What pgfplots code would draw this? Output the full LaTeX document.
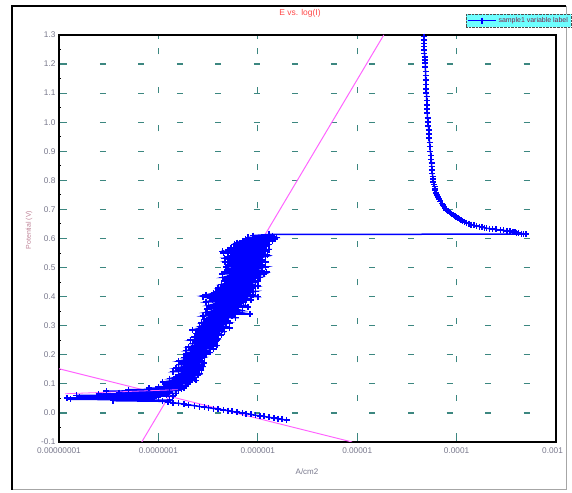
\documentclass[border=0pt]{standalone}
\usepackage{fontspec}
\setmainfont{Liberation Sans}
\usepackage{pgfplots}
\pgfplotsset{compat=1.18}
\definecolor{gridteal}{RGB}{60,135,128}
\definecolor{tafel}{RGB}{255,100,255}
\definecolor{legcyan}{RGB}{110,255,255}
\definecolor{titlered}{RGB}{255,70,70}
\definecolor{ticklab}{RGB}{120,120,140}
\definecolor{ylab}{RGB}{190,130,150}
\definecolor{legtext}{RGB}{130,30,70}
\begin{document}
\begin{tikzpicture}[x=1bp,y=1bp]
\path[use as bounding box] (-59,-51) rectangle (513,442);
\draw[gray!70, line width=1bp] (-47,-48) -- (507,-48) -- (507,436);
\draw[black, line width=1.5bp] (-47,-48) -- (-47,436) -- (507,436);
\begin{axis}[at={(0,0)}, anchor=south west, scale only axis,
  width=497bp, height=407bp,
  xmode=log, xmin=1e-8, xmax=1e-3, ymin=-0.1, ymax=1.3,
  xtick={1e-8,1e-7,1e-6,1e-5,1e-4,1e-3},
  xticklabels={0.00000001,0.0000001,0.000001,0.00001,0.0001,\hspace*{-7bp}0.001},
  ytick={-0.1,0,0.1,0.2,0.3,0.4,0.5,0.6,0.7,0.8,0.9,1.0,1.1,1.2,1.3},
  yticklabel style={/pgf/number format/.cd, fixed, fixed zerofill, precision=1},
  xticklabel style={yshift=-2bp},
  /pgf/number format/assume math mode=true,
  ticklabel style={font=\fontsize{8.3}{9}\selectfont, text=ticklab},
  minor y tick num=1,
  xminorticks=false,
  tick align=inside,
  major tick length=4bp, minor tick length=2.5bp,
  major tick style={gridteal, line width=1.2bp},
  minor tick style={black, line width=1bp},
  ytick pos=left,
  xtick pos=both,
  xticklabel pos=bottom,
  grid=major,
  major grid style={gridteal, line width=1.2bp, dash pattern=on 6bp off 32.5bp, dash phase=36bp},
  axis line style={black, line width=1.5bp},
  clip=true,
  legend style={at={(1.03,1.02)}, anchor=south east, fill=legcyan,
    draw=black!70, densely dotted, font=\fontsize{7}{7.5}\selectfont, text=legtext,
    inner sep=1bp, outer sep=0pt, row sep=0pt, legend cell align=left},
  legend image code/.code={\draw[solid, mark repeat=2, mark phase=2] plot coordinates {(0bp,0bp) (14bp,0bp) (28bp,0bp)};},
]
\addplot[tafel, line width=1bp, forget plot] coordinates {(6.8e-8,-0.1) (1.85e-5,1.3)};
\addplot[tafel, line width=1bp, forget plot] coordinates {(1e-8,0.152) (8.9e-6,-0.1)};
\addplot[blue, line width=1.5bp, mark=+, mark size=3bp, mark options={solid, line width=1.5bp}] coordinates {
(1.95e-6,-0.025) (1.75e-6,-0.022) (1.6e-6,-0.02) (1.45e-6,-0.018) (1.3e-6,-0.015)
(1.15e-6,-0.012) (1.05e-6,-0.01) (9.5e-7,-0.008) (8.5e-7,-0.005) (7.6e-7,-0.002)
(7e-7,0.0) (6.2e-7,0.003) (5.5e-7,0.005) (5.0e-7,0.008) (4.5e-7,0.01)
(4e-7,0.013) (3.6e-7,0.015) (3.2e-7,0.018) (2.9e-7,0.02) (2.6e-7,0.022)
(2.3e-7,0.025) (2.0e-7,0.028) (1.8e-7,0.03) (1.6e-7,0.033) (1.4e-7,0.035)
(1.25e-7,0.038) (1.1e-7,0.04)
(3.5e-8,0.042) (1.3e-7,0.044) (1.3e-8,0.047) (9e-8,0.049) (1.2e-8,0.052)
(1.0e-7,0.054) (1.6e-8,0.056) (1.4e-7,0.058) (1.5e-8,0.06) (1.2e-7,0.062)
(2.5e-8,0.065) (1.5e-7,0.067) (4e-8,0.07) (1.3e-7,0.072) (3e-8,0.075)
(1.6e-7,0.077) (5e-8,0.08) (1.7e-7,0.082) (8e-8,0.085) (1.8e-7,0.087)
(1.0e-7,0.09) (1.9e-7,0.093) (1.2e-7,0.096)
(1.2e-7,0.100) (2.0e-7,0.100) (2.1e-7,0.106) (1.1e-7,0.106) (1.4e-7,0.112) (2.4e-7,0.112)
(2.3e-7,0.118) (1.3e-7,0.118) (1.5e-7,0.124) (2.2e-7,0.124) (2.5e-7,0.130) (1.6e-7,0.130)
(1.7e-7,0.136) (2.6e-7,0.136) (2.4e-7,0.142) (1.4e-7,0.142) (1.6e-7,0.148) (2.7e-7,0.148)
(2.5e-7,0.154) (1.5e-7,0.154) (1.8e-7,0.160) (2.8e-7,0.160) (2.6e-7,0.166) (1.6e-7,0.166)
(1.7e-7,0.172) (2.9e-7,0.172) (2.7e-7,0.178) (1.6e-7,0.178) (1.9e-7,0.184) (2.6e-7,0.184)
(2.9e-7,0.190) (1.8e-7,0.190) (2.0e-7,0.196) (2.8e-7,0.196) (3.0e-7,0.202) (1.9e-7,0.202)
(2.1e-7,0.208) (3.3e-7,0.208) (3.0e-7,0.214) (1.9e-7,0.214) (2.2e-7,0.220) (3.6e-7,0.220)
(3.4e-7,0.226) (2.0e-7,0.226) (2.3e-7,0.232) (3.9e-7,0.232) (3.7e-7,0.238) (2.2e-7,0.238)
(2.4e-7,0.244) (3.5e-7,0.244) (3.9e-7,0.250) (2.1e-7,0.250) (2.5e-7,0.256) (4.0e-7,0.256)
(3.8e-7,0.262) (2.3e-7,0.262) (2.6e-7,0.268) (4.3e-7,0.268) (4.1e-7,0.274) (2.4e-7,0.274)
(2.5e-7,0.280) (4.6e-7,0.280) (4.4e-7,0.286) (2.2e-7,0.286) (2.7e-7,0.292) (5.2e-7,0.292)
(4.8e-7,0.298) (2.6e-7,0.298) (2.9e-7,0.304) (4.5e-7,0.304) (5.2e-7,0.310) (2.7e-7,0.310)
(3.0e-7,0.316) (5.0e-7,0.316) (4.8e-7,0.322) (2.9e-7,0.322) (3.2e-7,0.328) (6.0e-7,0.328)
(5.5e-7,0.334) (2.8e-7,0.334) (3.3e-7,0.340) (8.3e-7,0.340) (6.5e-7,0.346) (3.0e-7,0.346)
(3.6e-7,0.352) (7.0e-7,0.352) (6.0e-7,0.358) (3.1e-7,0.358) (3.4e-7,0.364) (8.0e-7,0.364)
(7.5e-7,0.370) (3.2e-7,0.370) (3.8e-7,0.376) (6.8e-7,0.376) (7.2e-7,0.382) (3.0e-7,0.382)
(3.5e-7,0.388) (8.5e-7,0.388) (7.8e-7,0.394) (3.3e-7,0.394) (2.8e-7,0.400) (1.0e-6,0.400)
(9.0e-7,0.406) (3.0e-7,0.406) (3.6e-7,0.412) (8.0e-7,0.412) (9.5e-7,0.418) (3.8e-7,0.418)
(4.2e-7,0.424) (8.5e-7,0.424) (9.0e-7,0.430) (4.0e-7,0.430) (4.5e-7,0.436) (1.0e-6,0.436)
(8.8e-7,0.442) (4.3e-7,0.442) (5.0e-7,0.448) (9.5e-7,0.448) (1.0e-6,0.454) (4.6e-7,0.454)
(4.8e-7,0.460) (9.0e-7,0.460) (1.05e-6,0.466) (4.4e-7,0.466) (5.2e-7,0.472) (1.0e-6,0.472)
(1.15e-6,0.478) (4.4e-7,0.478) (4.6e-7,0.484) (1.23e-6,0.484) (1.1e-6,0.490) (5.0e-7,0.490)
(5.5e-7,0.496) (1.0e-6,0.496) (1.2e-6,0.502) (4.8e-7,0.502) (5.0e-7,0.508) (1.1e-6,0.508)
(1.05e-6,0.514) (5.4e-7,0.514) (4.7e-7,0.520) (1.2e-6,0.520) (1.1e-6,0.526) (5.2e-7,0.526)
(4.6e-7,0.532) (1.0e-6,0.532) (1.2e-6,0.538) (5.0e-7,0.538) (5.6e-7,0.544) (1.25e-6,0.544)
(1.1e-6,0.550) (4.5e-7,0.550) (4.4e-7,0.556) (1.2e-6,0.556) (1.3e-6,0.562) (5.0e-7,0.562)
(5.4e-7,0.568) (1.15e-6,0.568) (1.2e-6,0.574) (6.0e-7,0.574) (5.8e-7,0.580) (1.3e-6,0.580)
(1.25e-6,0.586) (6.2e-7,0.586) (7.0e-7,0.592) (1.4e-6,0.592) (1.5e-6,0.598) (7.5e-7,0.598)
(8.0e-7,0.604) (1.55e-6,0.604) (1.4e-6,0.610) (9.0e-7,0.610) (1.3e-6,0.614)
(5.0e-4,0.615)
(4.7e-4,0.616) (4.5e-4,0.617) (4.2e-4,0.619) (4.0e-4,0.620) (3.85e-4,0.622)
(3.7e-4,0.623) (3.45e-4,0.625) (3.2e-4,0.626) (2.95e-4,0.628) (2.75e-4,0.629)
(2.5e-4,0.631) (2.3e-4,0.632) (2.15e-4,0.634) (2.0e-4,0.635) (1.9e-4,0.637)
(1.8e-4,0.639) (1.7e-4,0.641) (1.58e-4,0.643) (1.5e-4,0.645) (1.4e-4,0.648)
(1.33e-4,0.651) (1.26e-4,0.654) (1.2e-4,0.657) (1.15e-4,0.66) (1.11e-4,0.663)
(1.07e-4,0.666) (1.03e-4,0.669) (9.9e-5,0.673) (9.6e-5,0.677) (9.3e-5,0.681)
(8.9e-5,0.685) (8.5e-5,0.69) (8.2e-5,0.694) (7.9e-5,0.698) (7.6e-5,0.704)
(7.4e-5,0.71) (7.25e-5,0.715) (7.1e-5,0.721) (6.85e-5,0.728) (6.6e-5,0.735)
(6.45e-5,0.742) (6.3e-5,0.75) (6.2e-5,0.757) (6.1e-5,0.765) (6.05e-5,0.771)
(6.0e-5,0.778) (5.9e-5,0.786) (5.85e-5,0.795) (5.8e-5,0.804) (5.75e-5,0.813)
(5.7e-5,0.824) (5.65e-5,0.835) (5.62e-5,0.847) (5.6e-5,0.859) (5.55e-5,0.872)
(5.5e-5,0.885) (5.45e-5,0.9) (5.4e-5,0.916) (5.35e-5,0.93) (5.3e-5,0.945)
(5.28e-5,0.96) (5.25e-5,0.973) (5.2e-5,0.987) (5.15e-5,1.0) (5.1e-5,1.015)
(5.07e-5,1.031) (5.05e-5,1.045) (5.02e-5,1.06) (5.01e-5,1.074) (5.0e-5,1.088)
(4.97e-5,1.1) (4.95e-5,1.115) (4.92e-5,1.13) (4.9e-5,1.145) (4.88e-5,1.16)
(4.87e-5,1.175) (4.85e-5,1.19) (4.84e-5,1.203) (4.8e-5,1.214) (4.77e-5,1.225)
(4.75e-5,1.237) (4.73e-5,1.248) (4.71e-5,1.26) (4.7e-5,1.27) (4.69e-5,1.282)
(4.68e-5,1.294)
};
\addlegendentry{sample1 variable label}
\addplot[tafel, line width=0.8bp, forget plot] coordinates {(1.15e-8,0.066) (1.6e-7,0.08)};
\end{axis}
\node[text=titlered, font=\fontsize{8.5}{9}\selectfont] at (241,429) {E vs. log(I)};
\node[text=ticklab, font=\fontsize{8}{9}\selectfont] at (248,-30) {A/cm2};
\node[text=ylab, font=\fontsize{7}{8}\selectfont, rotate=90] at (-30,212) {Potential (V)};
\end{tikzpicture}
\end{document}
